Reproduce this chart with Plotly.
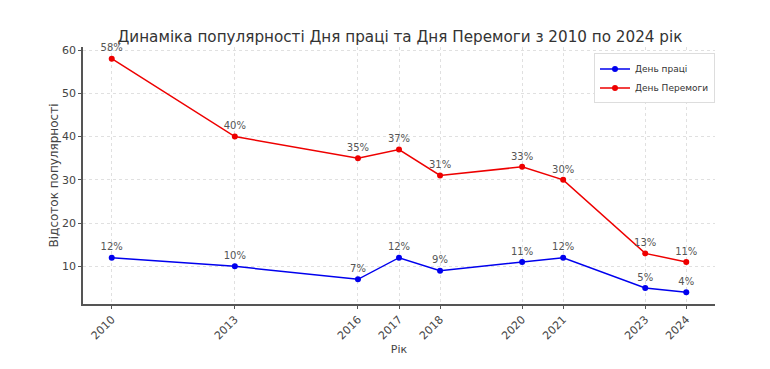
import plotly.graph_objects as go

years = [2010, 2013, 2016, 2017, 2018, 2020, 2021, 2023, 2024]
labour_day = [12, 10, 7, 12, 9, 11, 12, 5, 4]
victory_day = [58, 40, 35, 37, 31, 33, 30, 13, 11]
series_names = ["День праці", "День Перемоги"]
title_text = "Динаміка популярності Дня праці та Дня Перемоги з 2010 по 2024 рік"

fig = go.Figure()
for name, vals, color in [(series_names[0], labour_day, "#0000ee"),
                          (series_names[1], victory_day, "#ee0000")]:
    fig.add_trace(go.Scatter(
        x=years, y=vals, mode="lines+markers+text", name=name,
        line=dict(color=color, width=1.5),
        marker=dict(color=color, size=6),
        text=[f"{v}%" for v in vals], textposition="top center",
        textfont=dict(size=10, color="#555555", family="DejaVu Sans"),
        cliponaxis=False,
    ))

fig.update_layout(
    width=770, height=369,
    margin=dict(l=75, r=63, t=39, b=73),
    paper_bgcolor="white", plot_bgcolor="white",
    font=dict(family="DejaVu Sans", color="#333333"),
    title=dict(text=title_text, x=0.509, xanchor="center", y=0.923, yanchor="middle",
               font=dict(size=15.2, color="#333333")),
    showlegend=True,
    legend=dict(x=1.0, y=0.975, xanchor="right", yanchor="top",
                bgcolor="white", bordercolor="#dddddd", borderwidth=1,
                font=dict(size=9, color="#333333"), itemwidth=30,
                tracegroupgap=0),
)
fig.update_xaxes(
    range=[2009.3, 2024.7], tickvals=years, ticktext=[str(y) for y in years],
    tickangle=-45, tickfont=dict(size=11, color="#444444"),
    showgrid=True, gridcolor="#e0e0e0", griddash="dot", gridwidth=1,
    showline=True, linecolor="#555555", linewidth=1.5,
    ticks="outside", ticklen=3, tickcolor="#555555",
    zeroline=False, automargin=False,
    title=dict(text="Рік", font=dict(size=11, color="#444444"), standoff=4),
)
fig.update_yaxes(
    range=[1.3, 60.7], tickvals=[10, 20, 30, 40, 50, 60],
    tickfont=dict(size=11, color="#444444"),
    showgrid=True, gridcolor="#e0e0e0", griddash="dot", gridwidth=1,
    showline=True, linecolor="#555555", linewidth=1.5,
    ticks="outside", ticklen=3, tickcolor="#555555",
    zeroline=False, automargin=False,
    title=dict(text="Відсоток популярності", font=dict(size=12, color="#444444"), standoff=1),
)

fig.write_html("out.html")
